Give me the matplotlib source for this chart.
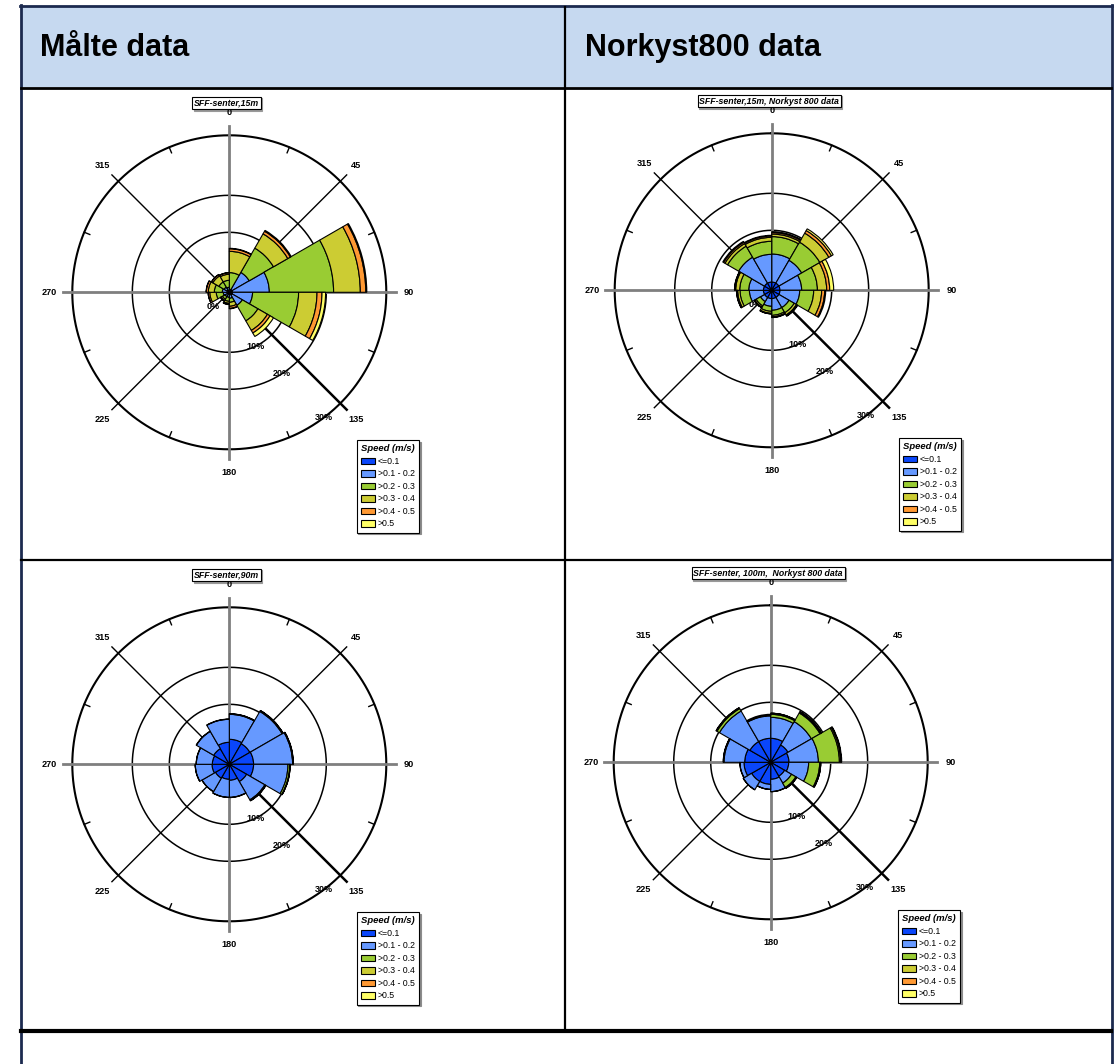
import numpy as np
import matplotlib
matplotlib.use("Agg")
import matplotlib.pyplot as plt
from matplotlib.patches import Patch, Rectangle
from matplotlib import transforms

plt.rcParams['font.family'] = ['Liberation Sans', 'DejaVu Sans']

W, H = 1115, 1064

# 12 direction sectors of 30 deg (centres), speed classes
directions = np.arange(15, 360, 30)
speed_labels = ["<=0.1", ">0.1 - 0.2", ">0.2 - 0.3", ">0.3 - 0.4", ">0.4 - 0.5", ">0.5"]
speed_colors = ["#0a46fa", "#6699ff", "#99cc33", "#cccc33", "#ff9933", "#ffff66"]

# frequency (%) per sector (rows, 15..345 deg) and speed class (columns)
malte_15m = [
    [0.17, 0.33, 2.78, 3.55, 0.42, 0.08],
    [0.50, 3.33, 4.67, 3.53, 0.81, 0.27],
    [0.50, 6.17, 14.55, 4.45, 0.91, 0.17],
    [0.50, 3.38, 8.63, 4.98, 1.35, 0.97],
    [0.50, 2.00, 3.00, 1.83, 0.50, 0.67],
    [0.33, 0.67, 0.67, 0.66, 0.34, 0.08],
    [0.33, 0.50, 0.67, 0.33, 0.17, 0.05],
    [0.33, 0.50, 0.50, 0.25, 0.09, 0.03],
    [0.33, 0.67, 1.17, 1.08, 0.25, 0.03],
    [0.33, 0.84, 1.33, 1.00, 0.33, 0.04],
    [0.33, 0.67, 1.00, 1.17, 0.25, 0.03],
    [0.33, 0.50, 1.17, 1.00, 0.25, 0.03],
]
norkyst_15m = [
    [1.38, 4.67, 2.90, 0.43, 0.24, 0.16],
    [1.38, 4.39, 3.50, 2.35, 0.81, 0.54],
    [1.38, 3.62, 2.62, 1.55, 0.50, 0.87],
    [1.38, 3.29, 2.33, 1.33, 0.50, 0.17],
    [1.38, 1.95, 1.00, 0.42, 0.17, 0.08],
    [1.38, 1.95, 0.84, 0.25, 0.08, 0.05],
    [1.38, 1.29, 0.83, 0.33, 0.09, 0.01],
    [1.38, 0.79, 0.83, 0.25, 0.08, 0.02],
    [1.38, 2.34, 1.56, 0.39, 0.16, 0.04],
    [1.38, 2.45, 1.50, 0.67, 0.17, 0.03],
    [1.38, 4.99, 2.13, 0.50, 0.25, 0.17],
    [1.38, 4.62, 2.17, 0.66, 0.22, 0.12],
]
malte_90m = [
    [4.17, 4.16, 0.08, 0.02, 0, 0],
    [3.97, 6.30, 0.27, 0.05, 0, 0],
    [4.05, 6.84, 0.19, 0.05, 0, 0],
    [4.05, 5.73, 0.36, 0.10, 0.02, 0],
    [3.33, 3.50, 0.17, 0.05, 0, 0],
    [2.67, 2.83, 0.05, 0, 0, 0],
    [2.50, 3.00, 0.03, 0, 0, 0],
    [2.67, 2.58, 0.03, 0, 0, 0],
    [2.88, 2.79, 0.03, 0, 0, 0],
    [2.83, 2.67, 0.03, 0, 0, 0],
    [3.00, 3.33, 0.05, 0, 0, 0],
    [3.67, 3.83, 0.05, 0, 0, 0],
]
norkyst_100m = [
    [4.00, 3.50, 0.50, 0.17, 0.02, 0],
    [3.33, 4.50, 1.67, 0.17, 0.08, 0.02],
    [3.05, 4.90, 4.40, 0.35, 0.14, 0.13],
    [3.00, 3.33, 1.84, 0.16, 0.03, 0],
    [2.67, 1.33, 0.83, 0.17, 0.02, 0],
    [2.83, 2.05, 0.03, 0, 0, 0],
    [3.67, 0.83, 0.03, 0, 0, 0],
    [3.67, 1.61, 0.03, 0, 0, 0],
    [4.45, 0.67, 0.03, 0, 0, 0],
    [4.33, 3.45, 0.10, 0.04, 0, 0],
    [4.00, 5.87, 0.67, 0.27, 0.02, 0],
    [4.00, 3.73, 0.10, 0.17, 0, 0],
]

titles = ["SFF-senter,15m", "SFF-senter,15m, Norkyst 800 data",
          "SFF-senter,90m", "SFF-senter, 100m,  Norkyst 800 data"]
headers = ["Målte data", "Norkyst800 data"]
rings = [10, 20, 30]
ring_labels = ["10%", "20%", "30%"]

# the rose software uses an uneven radial scale; rings at 10/20/30 %
RING_PCT = [0, 10, 20, 30, 40]
RING_R = [0, 60, 97, 157, 217]


def fwd(p):
    return np.interp(p, RING_PCT, RING_R)


def inv(r):
    return np.interp(r, RING_R, RING_PCT)


fig = plt.figure(figsize=(W / 100, H / 100), dpi=100)

# table background
bg = fig.add_axes([0, 0, 1, 1])
bg.set_xlim(0, W)
bg.set_ylim(H, 0)
bg.axis('off')
navy = '#1c2a4f'
bg.add_patch(Rectangle((21, 7), 1090, 80, facecolor='#c6d9f0', edgecolor='none'))
bg.plot([20, 1112], [6, 6], color=navy, lw=2)
bg.plot([20.5, 20.5], [5, H], color=navy, lw=2)
bg.plot([1111.5, 1111.5], [5, H], color=navy, lw=2)
bg.plot([21, 1111], [87.5, 87.5], color='black', lw=2)
bg.plot([565, 565], [7, 1031], color='black', lw=1.6)
bg.plot([21, 1111], [559.5, 559.5], color='black', lw=1.6)
bg.plot([21, 1111], [1031, 1031], color='black', lw=3)
bg.text(40, 48, headers[0], fontsize=22, fontweight='bold', va='center', ha='left')
bg.text(585, 48, headers[1], fontsize=22, fontweight='bold', va='center', ha='left')

centres = [(229.3, 292.3), (771.7, 290.3), (229.3, 764.3), (770.7, 762.3)]
panels = [malte_15m, norkyst_15m, malte_90m, norkyst_100m]
RMAX = 35
half = fwd(RMAX)

for (cx, cy), data, title in zip(centres, panels, titles):
    data = np.array(data)
    ax = fig.add_axes([(cx - half) / W, (H - cy - half) / H, 2 * half / W, 2 * half / H],
                      projection='polar')
    ax.set_rscale('function', functions=(fwd, inv))
    ax.set_theta_zero_location('N')
    ax.set_theta_direction(-1)
    ax.set_rlim(0, RMAX)
    ax.grid(False)
    ax.set_xticks([])
    ax.set_yticks([])
    ax.spines['polar'].set_visible(False)
    ax.patch.set_facecolor('none')

    full = np.linspace(0, 2 * np.pi, 361)
    for v in rings:
        ax.plot(full, np.full_like(full, v), color='black', lw=1.5 if v == 30 else 1.1, zorder=1)

    for ang in [0, 90, 180, 270]:
        ax.plot([np.deg2rad(ang)] * 2, [0, 31.6], color='#7f7f7f', lw=2, zorder=1)
    for ang in [45, 135, 225, 315]:
        ax.plot([np.deg2rad(ang)] * 2, [0, 31.5], color='black', lw=1.8 if ang == 135 else 1.0, zorder=1)
    for ang in np.arange(22.5, 360, 45):
        ax.plot([np.deg2rad(ang)] * 2, [29.0, 30], color='black', lw=1.0, zorder=1)
    for ang in range(0, 360, 45):
        ax.text(np.deg2rad(ang), 33.8, str(ang), ha='center', va='center',
                fontsize=6.6, fontweight='bold', zorder=6)

    for v, lab, b in zip(rings, ring_labels, [154, 147, 143]):
        ax.text(np.deg2rad(b), v, lab, ha='center', va='center', fontsize=6.5,
                fontweight='bold', zorder=1.5)
    ax.text(np.deg2rad(228), 3.6, "0%", ha='center', va='center', fontsize=6.5,
            fontweight='bold', zorder=1.5)

    theta = np.deg2rad(directions)
    bottom = np.zeros(len(directions))
    for k in range(data.shape[1]):
        vals = data[:, k]
        m = vals > 0
        ax.bar(theta[m], vals[m], width=np.deg2rad(30), bottom=bottom[m],
               color=speed_colors[k], edgecolor='black', linewidth=0.8, zorder=3)
        bottom = bottom + vals

    # title box with shadow
    sh = transforms.offset_copy(ax.transAxes, fig=fig, x=1.3, y=-1.3, units='dots')
    kw = dict(ha='center', va='center', fontsize=6.3, fontweight='bold', fontstyle='italic', zorder=5)
    ax.text(0.4933, 1.006, title, transform=sh, color='#999999',
            bbox=dict(boxstyle='square,pad=0.2', fc='#999999', ec='#999999', lw=0.8), **kw)
    ax.text(0.4933, 1.006, title, transform=ax.transAxes,
            bbox=dict(boxstyle='square,pad=0.2', fc='white', ec='black', lw=0.8), **kw)

    handles = [Patch(facecolor=c, edgecolor='black', lw=0.8) for c in speed_colors]
    leg = ax.legend(handles, speed_labels, loc='upper left', bbox_to_anchor=(0.8406, 0.105),
                    fontsize=6.3, title='Speed (m/s)',
                    title_fontproperties={'weight': 'bold', 'style': 'italic', 'size': 6.8},
                    frameon=True, fancybox=False, edgecolor='black', framealpha=1,
                    shadow={'ox': 1.2, 'oy': -1.2, 'shade': 0.45, 'alpha': 1},
                    borderpad=0.5, labelspacing=0.4, handlelength=1.6, handleheight=0.8,
                    handletextpad=0.3, borderaxespad=0)
    leg.get_frame().set_linewidth(0.8)

fig.savefig("out.png", dpi=100)
